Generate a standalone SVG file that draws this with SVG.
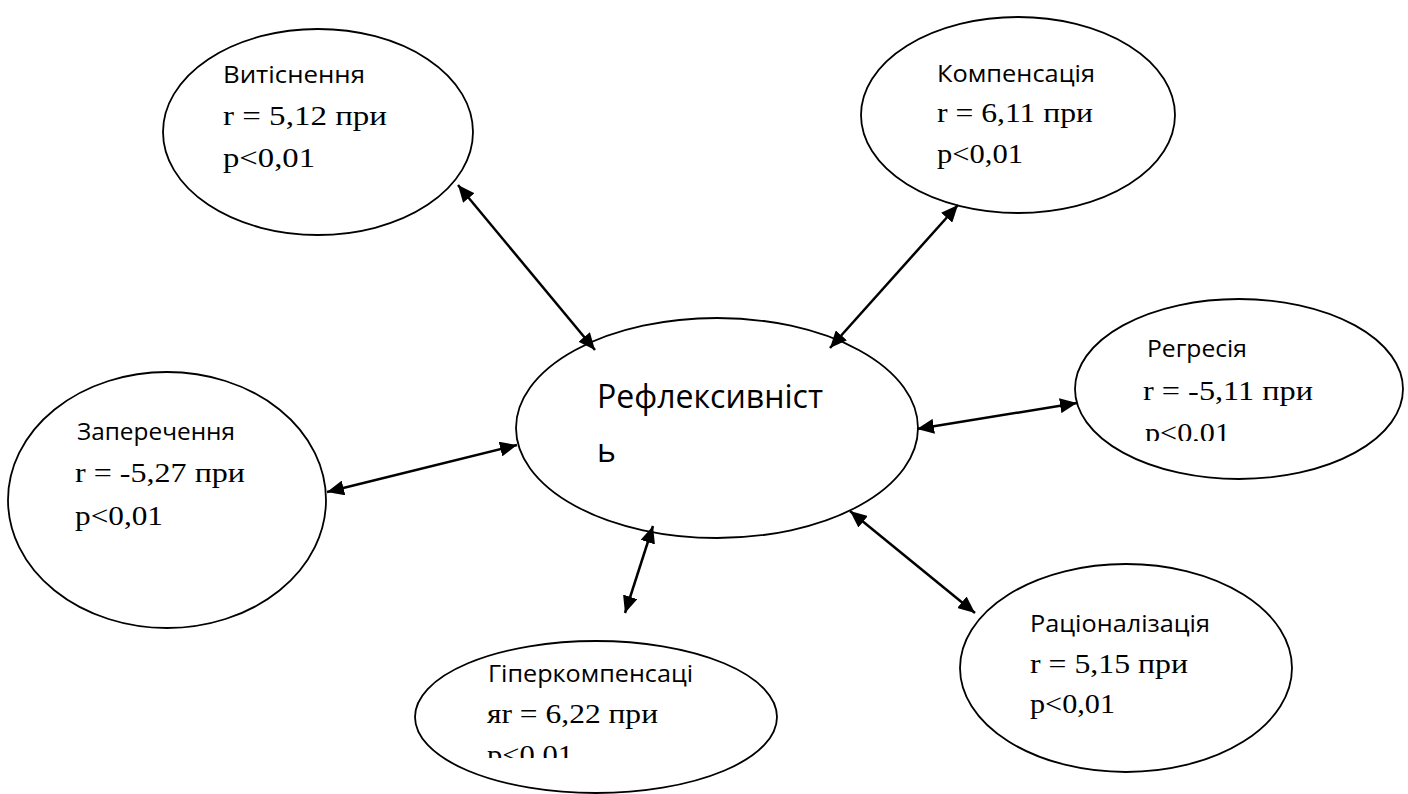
<svg xmlns="http://www.w3.org/2000/svg" width="1408" height="794" viewBox="0 0 1408 794">
<style>
.node ellipse{fill:#fff;stroke:#000;stroke-width:1.8}
.s{font-family:"Open Sans","Noto Sans","Liberation Sans",sans-serif;font-size:23px;fill:#000}
.big{font-size:32px}
.t{font-family:"Liberation Serif","Times New Roman",serif;font-size:27px;fill:#000}
.conn line{stroke:#000;stroke-width:2.5;marker-start:url(#ah);marker-end:url(#ah)}
</style>
<defs>
<marker id="ah" viewBox="0 0 17 15" refX="17" refY="7.5" markerWidth="17" markerHeight="15" markerUnits="userSpaceOnUse" orient="auto-start-reverse">
<path d="M0,0 L17,7.5 L0,15 Z" fill="#000"/>
</marker>
<clipPath id="cReg"><rect x="1100" y="300" width="300" height="141"/></clipPath>
<clipPath id="cHyp"><rect x="440" y="640" width="330" height="118"/></clipPath>
</defs>
<g id="n-vytisnennia" class="node">
<ellipse cx="318" cy="132" rx="155" ry="103"/>
<text class="s" x="223" y="83" textLength="142" lengthAdjust="spacingAndGlyphs">Витіснення</text>
<text class="t" x="223" y="125" textLength="164" lengthAdjust="spacingAndGlyphs">r = 5,12 при</text>
<text class="t" x="223" y="167" textLength="92" lengthAdjust="spacingAndGlyphs">p&lt;0,01</text>
</g>
<g id="n-kompensatsiia" class="node">
<ellipse cx="1018" cy="115" rx="157" ry="98"/>
<text class="s" x="937" y="82" textLength="158" lengthAdjust="spacingAndGlyphs">Компенсація</text>
<text class="t" x="937" y="122" textLength="156" lengthAdjust="spacingAndGlyphs">r = 6,11 при</text>
<text class="t" x="937" y="163" textLength="86" lengthAdjust="spacingAndGlyphs">p&lt;0,01</text>
</g>
<g id="n-rehresiia" class="node">
<ellipse cx="1239" cy="389" rx="164" ry="90"/>
<text class="s" x="1147" y="357" textLength="100" lengthAdjust="spacingAndGlyphs">Регресія</text>
<text class="t" x="1143" y="400" textLength="170" lengthAdjust="spacingAndGlyphs">r = -5,11 при</text>
<text class="t" x="1145" y="442" textLength="85" lengthAdjust="spacingAndGlyphs" clip-path="url(#cReg)">p&lt;0,01</text>
</g>
<g id="n-refleksyvnist" class="node">
<ellipse cx="717" cy="428" rx="201" ry="110"/>
<text class="s big" x="597" y="408" textLength="226" lengthAdjust="spacingAndGlyphs">Рефлексивніст</text>
<text class="s big" x="597" y="462">ь</text>
</g>
<g id="n-zaperechennia" class="node">
<ellipse cx="167" cy="500" rx="159" ry="128"/>
<text class="s" x="77" y="440" textLength="158" lengthAdjust="spacingAndGlyphs">Заперечення</text>
<text class="t" x="75" y="482" textLength="170" lengthAdjust="spacingAndGlyphs">r = -5,27 при</text>
<text class="t" x="75" y="525" textLength="88" lengthAdjust="spacingAndGlyphs">p&lt;0,01</text>
</g>
<g id="n-hiperkompensatsiia" class="node">
<ellipse cx="596" cy="717" rx="181" ry="76"/>
<text class="s" x="488" y="682" textLength="205" lengthAdjust="spacingAndGlyphs">Гіперкомпенсаці</text>
<text class="t" x="487" y="723" textLength="171" lengthAdjust="spacingAndGlyphs">яr = 6,22 при</text>
<text class="t" x="487" y="764" textLength="86" lengthAdjust="spacingAndGlyphs" clip-path="url(#cHyp)">p&lt;0,01</text>
</g>
<g id="n-ratsionalizatsiia" class="node">
<ellipse cx="1126" cy="668" rx="166" ry="104"/>
<text class="s" x="1030" y="632" textLength="180" lengthAdjust="spacingAndGlyphs">Раціоналізація</text>
<text class="t" x="1030" y="673" textLength="158" lengthAdjust="spacingAndGlyphs">r = 5,15 при</text>
<text class="t" x="1030" y="713" textLength="85" lengthAdjust="spacingAndGlyphs">p&lt;0,01</text>
</g>
<g id="connectors" class="conn">
<line x1="458" y1="185" x2="595" y2="350"/>
<line x1="958" y1="205" x2="830" y2="348"/>
<line x1="327" y1="492" x2="517" y2="445"/>
<line x1="917" y1="429" x2="1077" y2="403"/>
<line x1="653" y1="526" x2="625" y2="613"/>
<line x1="850" y1="511" x2="975" y2="613"/>
</g>
</svg>
